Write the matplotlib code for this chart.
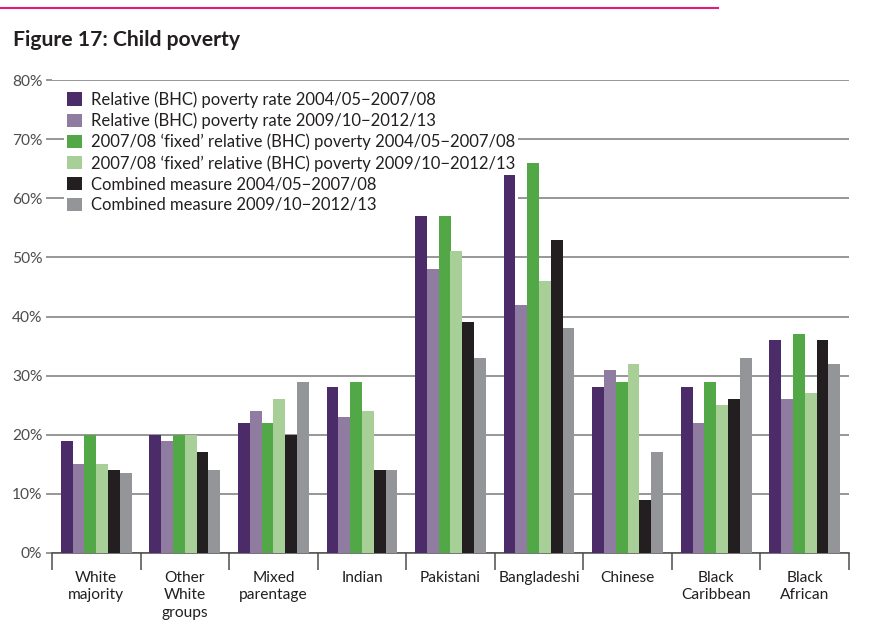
import numpy as np
import matplotlib.pyplot as plt
from matplotlib.lines import Line2D

plt.rcParams['font.family'] = ['Lato', 'DejaVu Sans']

# Data (percent of children)
groups = ["White\nmajority", "Other\nWhite\ngroups", "Mixed\nparentage", "Indian",
          "Pakistani", "Bangladeshi", "Chinese", "Black\nCaribbean", "Black\nAfrican"]
rel_0408 = [19, 20, 22, 28, 57, 64, 28, 28, 36]
rel_0913 = [15, 19, 24, 23, 48, 42, 31, 22, 26]
fixed_0408 = [20, 20, 22, 29, 57, 66, 29, 29, 37]
fixed_0913 = [15, 20, 26, 24, 51, 46, 32, 25, 27]
comb_0408 = [14, 17, 20, 14, 39, 53, 9, 26, 36]
comb_0913 = [13.5, 14, 29, 14, 33, 38, 17, 33, 32]

series_labels = [
    "Relative (BHC) poverty rate 2004/05\u22122007/08",
    "Relative (BHC) poverty rate 2009/10\u22122012/13",
    "2007/08 \u2018fixed\u2019 relative (BHC) poverty 2004/05\u22122007/08",
    "2007/08 \u2018fixed\u2019 relative (BHC) poverty 2009/10\u22122012/13",
    "Combined measure 2004/05\u22122007/08",
    "Combined measure 2009/10\u22122012/13",
]
series = [rel_0408, rel_0913, fixed_0408, fixed_0913, comb_0408, comb_0913]
colors = ["#4b2c69", "#917ca1", "#52a846", "#a9cf98", "#231f20", "#939598"]

fig = plt.figure(figsize=(8.72, 6.37), dpi=100)
ax = fig.add_axes([52 / 872, 1 - 553 / 637, (849 - 52) / 872, (553 - 80) / 637])

x = np.arange(len(groups))
w = 0.133
for i, (vals, c, lab) in enumerate(zip(series, colors, series_labels)):
    ax.bar(x + (i - 2.5) * w, vals, w, color=c, label=lab, zorder=3)

ax.set_xlim(-0.5, len(groups) - 0.5)
ax.set_ylim(0, 80)
ax.set_yticks(np.arange(0, 81, 10))
ax.set_yticklabels([f"{v}%" for v in range(0, 81, 10)])
ax.yaxis.grid(True, color="#7a7a7a", lw=1.1, zorder=0)
ax.tick_params(axis="y", length=4, width=1.1, color="#7a7a7a", pad=3,
               labelsize=11.2, labelcolor="#4d4d4d")

ax.set_xticks(x)
ax.set_xticklabels(groups, fontsize=11.2, color="#231f20", linespacing=1.3)
ax.set_xticks(np.arange(-0.5, len(groups)), minor=True)
ax.tick_params(axis="x", which="major", length=0, pad=13)
ax.tick_params(axis="x", which="minor", length=12, width=1.1, color="#4d4d4d", direction="out")

for s in ["top", "right", "left"]:
    ax.spines[s].set_visible(False)
ax.spines["bottom"].set_color("#4d4d4d")
ax.spines["bottom"].set_linewidth(1.1)

# legend sits over the gridlines but under the bars
leg = ax.legend(loc="upper left", bbox_to_anchor=(64 / 872, 1 - 88 / 637),
                bbox_transform=fig.transFigure, fontsize=12, frameon=True,
                handlelength=0.85, handleheight=0.85, handletextpad=0.55,
                labelspacing=0.28, borderpad=0.2, borderaxespad=0)
leg.get_frame().set_facecolor("white")
leg.get_frame().set_edgecolor("none")
leg.get_frame().set_alpha(1)
leg.set_zorder(2)
for t in leg.get_texts():
    t.set_color("#231f20")

fig.text(13 / 872, 1 - 40 / 637, "Figure 17: Child poverty", fontsize=15.2,
         fontweight="bold", color="#231f20", va="center")
fig.add_artist(Line2D([0, 718 / 872], [1 - 8 / 637, 1 - 8 / 637],
                      color="#e5197e", lw=1.5, transform=fig.transFigure))

fig.savefig("out.png", dpi=100)
